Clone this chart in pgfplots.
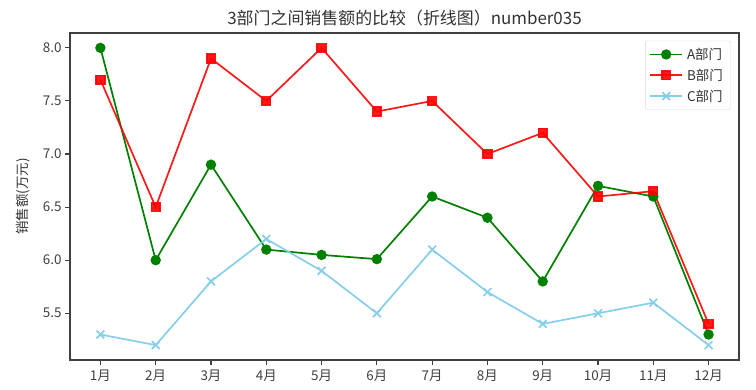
\documentclass[border=0pt]{standalone}
\usepackage{fontspec}
\setmainfont{Noto Sans CJK SC}
\usepackage{pgfplots}
\pgfplotsset{compat=1.18}
\definecolor{mgreen}{RGB}{0,128,0}
\definecolor{mred}{RGB}{255,0,0}
\definecolor{skyblue}{RGB}{135,206,235}
\begin{document}
\begin{tikzpicture}[x=1bp,y=1bp]
\useasboundingbox (-70bp,-30bp) rectangle (686bp,360bp);
\begin{axis}[
  scale only axis,
  width=669bp, height=327bp,
  xmin=-0.55, xmax=11.55,
  ymin=5.06, ymax=8.14,
  xtick={0,...,11},
  xticklabels={1月,2月,3月,4月,5月,6月,7月,8月,9月,10月,11月,12月},
  ytick={5.5,6.0,6.5,7.0,7.5,8.0},
  yticklabel style={/pgf/number format/.cd,fixed,fixed zerofill,precision=1},
  /pgf/number format/assume math mode=true,
  tick align=outside,
  xtick pos=bottom, ytick pos=left,
  major tick length=5bp,
  tick style={black!75, line width=1.1bp},
  axis line style={black!75, line width=1.1bp},
  ticklabel style={font=\fontsize{13.5}{15}\selectfont, text=black!75},
  xticklabel style={yshift=-1bp},
  title={3部门之间销售额的比较（折线图）number035},
  title style={font=\fontsize{17}{19}\selectfont, text=black!80, yshift=-3bp},
  ylabel={销售额(万元)},
  ylabel style={font=\fontsize{13.5}{15}\selectfont, text=black!80, yshift=6bp},
  legend style={at={(0.988,0.976)}, anchor=north east, font=\fontsize{13.5}{15}\selectfont,
    text=black!80, draw=black!15, rounded corners=2bp, row sep=4bp, inner xsep=4bp, inner ysep=5bp,
    nodes={inner xsep=4bp}},
  legend cell align=left,
  legend image code/.code={\draw[mark repeat=2,mark phase=2] plot coordinates {(0bp,0bp)(16bp,0bp)(32bp,0bp)};},
]
\addplot[mgreen, line width=1.7bp, mark=*, mark size=4.3bp, mark options={solid,fill=mgreen,draw=mgreen}]
 coordinates {(0,8.0)(1,6.0)(2,6.9)(3,6.1)(4,6.05)(5,6.01)(6,6.6)(7,6.4)(8,5.8)(9,6.7)(10,6.6)(11,5.3)};
\addlegendentry{A部门}
\addplot[mred, line width=1.7bp, mark=square*, mark size=4.3bp, mark options={solid,fill=mred,draw=mred}, opacity=0.9]
 coordinates {(0,7.7)(1,6.5)(2,7.9)(3,7.5)(4,8.0)(5,7.4)(6,7.5)(7,7.0)(8,7.2)(9,6.6)(10,6.65)(11,5.4)};
\addlegendentry{B部门}
\addplot[skyblue, line width=1.7bp, mark=x, mark size=5.5bp, mark options={solid,draw=skyblue}]
 coordinates {(0,5.3)(1,5.2)(2,5.8)(3,6.2)(4,5.9)(5,5.5)(6,6.1)(7,5.7)(8,5.4)(9,5.5)(10,5.6)(11,5.2)};
\addlegendentry{C部门}
\end{axis}
\end{tikzpicture}
\end{document}
